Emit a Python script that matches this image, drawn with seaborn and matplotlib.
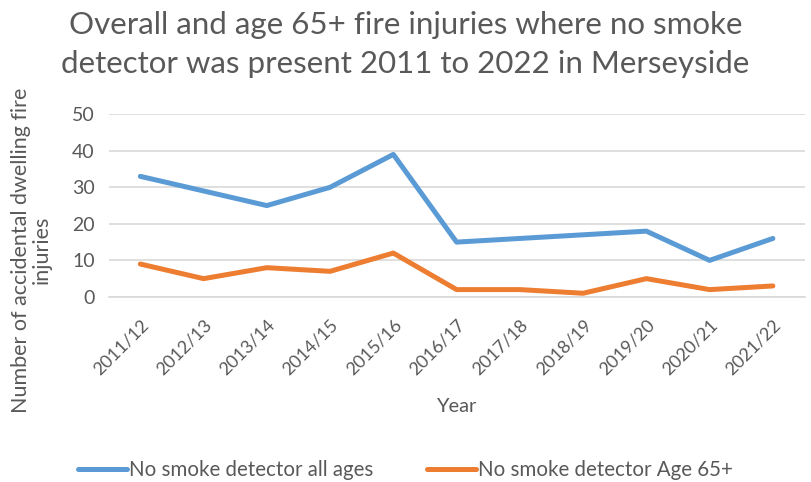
import matplotlib
matplotlib.use("Agg")
import matplotlib.pyplot as plt
import seaborn as sns
import pandas as pd
from matplotlib.lines import Line2D

years = ["2011/12", "2012/13", "2013/14", "2014/15", "2015/16", "2016/17",
         "2017/18", "2018/19", "2019/20", "2020/21", "2021/22"]
all_ages = [33, 29, 25, 30, 39, 15, 16, 17, 18, 10, 16]
age_65 = [9, 5, 8, 7, 12, 2, 2, 1, 5, 2, 3]
series_names = ["No smoke detector all ages", "No smoke detector Age 65+"]
colors = ["#5B9BD5", "#ED7D31"]
title_lines = ["Overall and age 65+ fire injuries where no smoke",
               "detector was present 2011 to 2022 in Merseyside"]

df = pd.DataFrame({
    "Year": years * 2,
    "value": all_ages + age_65,
    "series": [series_names[0]] * len(years) + [series_names[1]] * len(years),
})
df["x"] = list(range(len(years))) * 2

sns.set_theme(style="white")
plt.rcParams["font.family"] = ["Lato", "DejaVu Sans"]

fig = plt.figure(figsize=(8.11, 4.82), dpi=100)
ax = fig.add_axes([0.134, 0.384, 0.858, 0.379])

sns.lineplot(data=df, x="x", y="value", hue="series",
             palette=colors, linewidth=3.6, ax=ax, legend=False)

ax.set_xlim(-0.5, len(years) - 0.5)
ax.set_ylim(0, 50)
ax.set_yticks([0, 10, 20, 30, 40, 50])
ax.yaxis.grid(True, color="#D9D9D9", linewidth=1.2)
ax.set_axisbelow(True)
for s in ["top", "right", "left"]:
    ax.spines[s].set_visible(False)
ax.spines["bottom"].set_color("#D9D9D9")
ax.spines["bottom"].set_linewidth(1.2)
ax.tick_params(axis="y", length=0, labelsize=14, labelcolor="#595959", pad=10)
ax.set_xticks(range(len(years)))
ax.set_xticklabels(years, rotation=45, ha="right", rotation_mode="anchor")
ax.tick_params(axis="x", length=0, labelsize=13, labelcolor="#595959", pad=14)

ax.set_xlabel("Year", fontsize=14.5, color="#595959", labelpad=15)
ax.set_ylabel("Number of accidental dwelling fire\ninjuries", fontsize=15.5,
              color="#595959", linespacing=1.05)
ax.yaxis.set_label_coords(-0.082, 0.257)

fig.text(0.5, 1 - 34 / 482, title_lines[0], ha="center", va="baseline",
         fontsize=22.5, color="#595959")
fig.text(0.5, 1 - 73 / 482, title_lines[1], ha="center", va="baseline",
         fontsize=22.5, color="#595959")

handles = [Line2D([], [], color=c, linewidth=3.6) for c in colors]
fig.legend(handles, series_names, loc="center", bbox_to_anchor=(0.5, 0.024),
           ncol=2, frameon=False, fontsize=14.8, labelcolor="#595959",
           handlelength=2.4, handletextpad=0.1, columnspacing=2.6)

fig.savefig("out.png", dpi=100, facecolor="white")
